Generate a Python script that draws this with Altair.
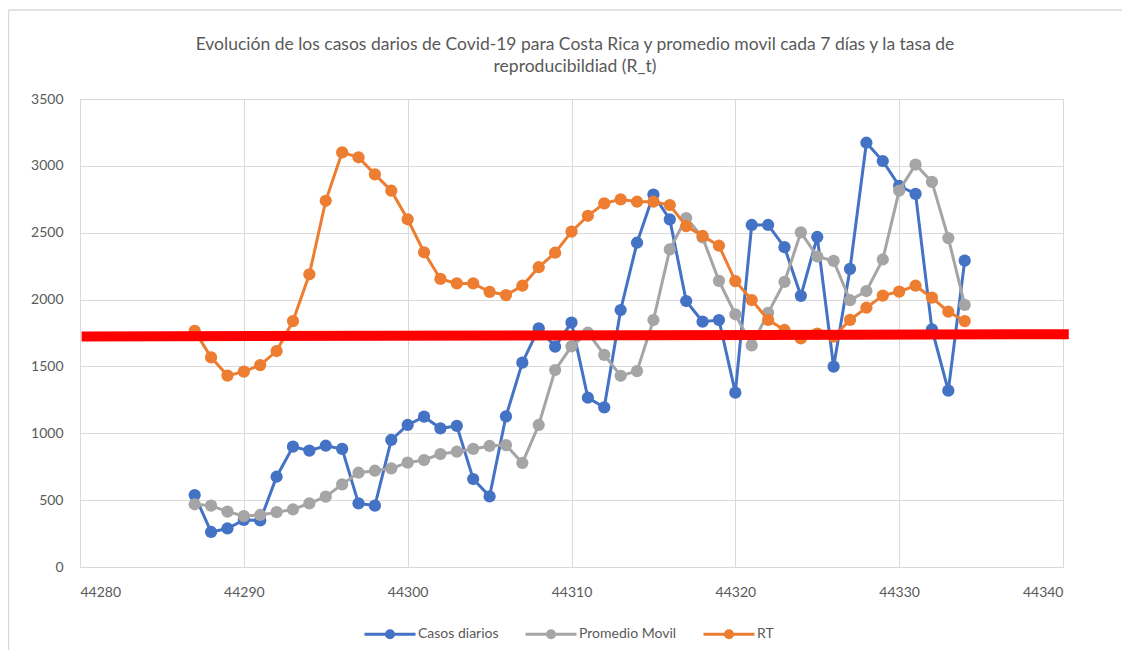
import altair as alt
import pandas as pd

dias = [44287, 44288, 44289, 44290, 44291, 44292, 44293, 44294, 44295, 44296,
        44297, 44298, 44299, 44300, 44301, 44302, 44303, 44304, 44305, 44306,
        44307, 44308, 44309, 44310, 44311, 44312, 44313, 44314, 44315, 44316,
        44317, 44318, 44319, 44320, 44321, 44322, 44323, 44324, 44325, 44326,
        44327, 44328, 44329, 44330, 44331, 44332, 44333, 44334]
casos = [538, 262, 288, 352, 348, 675, 900, 870, 907, 883,
         476, 459, 950, 1062, 1124, 1037, 1055, 658, 528, 1127,
         1528, 1785, 1648, 1828, 1266, 1194, 1922, 2425, 2785, 2600,
         1989, 1835, 1847, 1304, 2558, 2558, 2392, 2028, 2468, 1498,
         2229, 3173, 3036, 2850, 2790, 1778, 1319, 2291]
promedio = [469, 459, 414, 381, 389, 410, 431, 476, 526, 618,
            705, 720, 738, 780, 800, 845, 862, 883, 905, 912,
            778, 1062, 1473, 1650, 1752, 1586, 1430, 1465, 1847, 2375,
            2610, 2465, 2140, 1890, 1657, 1900, 2132, 2503, 2322, 2289,
            1995, 2064, 2300, 2815, 3010, 2880, 2460, 1960]
rt = [1.009, 0.896, 0.818, 0.835, 0.863, 0.923, 1.051, 1.251, 1.565, 1.772,
      1.751, 1.678, 1.608, 1.486, 1.345, 1.231, 1.212, 1.212, 1.176, 1.162,
      1.202, 1.281, 1.343, 1.433, 1.501, 1.554, 1.571, 1.561, 1.561, 1.547,
      1.457, 1.415, 1.373, 1.222, 1.141, 1.056, 1.013, 0.977, 0.997, 0.984,
      1.056, 1.108, 1.160, 1.177, 1.202, 1.151, 1.091, 1.051]

series = ["Casos diarios", "Promedio Movil", "RT"]
colores = ["#4472C4", "#A5A5A5", "#ED7D31"]
x_ticks = [44280, 44290, 44300, 44310, 44320, 44330, 44340]
y_left_ticks = [0, 500, 1000, 1500, 2000, 2500, 3000, 3500]
y_right_ticks = [0, 0.2, 0.4, 0.6, 0.8, 1.0, 1.2, 1.4, 1.6, 1.8, 2.0]
linea_x = [44280.1, 44340.35]
linea_y = [0.985, 0.995]

titulo = ["Evolución de los casos darios de Covid-19 para Costa Rica y promedio movil cada 7 días y la tasa de",
          "reproducibildiad (R_t)"]

FONT = "Lato"
TXT = "#595959"
GRID = "#D9D9D9"

df_casos = pd.DataFrame({"dia": dias, "valor": casos, "serie": series[0]})
df_prom = pd.DataFrame({"dia": dias, "valor": promedio, "serie": series[1]})
df_rt = pd.DataFrame({"dia": dias, "valor": rt, "serie": series[2]})
df_linea = pd.DataFrame({"dia": linea_x, "valor": linea_y})

color_scale = alt.Scale(domain=series, range=colores)
legend = alt.Legend(
    orient="none", legendX=283, legendY=508, direction="horizontal", columns=3,
    title=None,
    symbolType="M-1,0H1M-0.14,0A0.14,0.14 0 1,0 0.14,0A0.14,0.14 0 1,0 -0.14,0",
    symbolSize=2601, symbolStrokeWidth=3, labelFontSize=14, labelColor=TXT,
    labelFont=FONT, columnPadding=20, labelOffset=1,
)
color_enc = alt.Color("serie:N", scale=color_scale, legend=legend)

x_enc = alt.X(
    "dia:Q",
    scale=alt.Scale(domain=[44280, 44340], nice=False, zero=False),
    axis=alt.Axis(values=x_ticks, format="d", title=None, grid=True, gridColor=GRID,
                  domainColor=GRID, ticks=False, labelPadding=18, labelFontSize=14,
                  labelColor=TXT, labelFont=FONT),
)
left_axis = alt.Axis(values=y_left_ticks, format="d", title=None, grid=True, gridColor=GRID,
                     domainColor=GRID, ticks=False, labelPadding=17, labelFontSize=14,
                     labelColor=TXT, labelFont=FONT)
y_left = alt.Y("valor:Q", scale=alt.Scale(domain=[0, 3500], nice=False), axis=left_axis)

right_axis = alt.Axis(values=y_right_ticks, orient="right", title=None, grid=False,
                      domainColor=GRID, ticks=True, tickColor=GRID, tickSize=5,
                      labelPadding=10, labelFontSize=14, labelColor=TXT, labelFont=FONT,
                      labelExpr="replace(format(datum.value, '.1~f'), '.', ',')")
y_right = alt.Y("valor:Q", scale=alt.Scale(domain=[0, 2], nice=False), axis=right_axis)

pt = alt.OverlayMarkDef(filled=True, size=150, opacity=1)

l_casos = alt.Chart(df_casos).mark_line(strokeWidth=3, point=pt).encode(
    x=x_enc, y=y_left, color=color_enc)
l_prom = alt.Chart(df_prom).mark_line(strokeWidth=3, point=pt).encode(
    x=x_enc, y=y_left, color=color_enc)
left = alt.layer(l_casos, l_prom)

l_rt = alt.Chart(df_rt).mark_line(strokeWidth=3, point=pt).encode(
    x=x_enc, y=y_right, color=color_enc)
l_red = alt.Chart(df_linea).mark_line(color="#FF0000", strokeWidth=10, strokeCap="butt").encode(
    x=alt.X("dia:Q"), y=alt.Y("valor:Q", axis=None))
right = alt.layer(l_rt, l_red)

border_top = alt.Chart(alt.Data(values=[{}])).mark_rule(
    color=GRID, strokeWidth=1.5).encode(
    x=alt.value(-71.5), x2=alt.value(1300), y=alt.value(-89))
border_left = alt.Chart(alt.Data(values=[{}])).mark_rule(
    color=GRID, strokeWidth=1.5).encode(
    x=alt.value(-71.5), y=alt.value(-89), y2=alt.value(800))

t1 = alt.Chart(alt.Data(values=[{"t": titulo[0]}])).mark_text(
    font=FONT, fontSize=17.5, color=TXT, align="center", baseline="middle"
).encode(x=alt.value(495), y=alt.value(-54), text="t:N")
t2 = alt.Chart(alt.Data(values=[{"t": titulo[1]}])).mark_text(
    font=FONT, fontSize=17.5, color=TXT, align="center", baseline="middle"
).encode(x=alt.value(495), y=alt.value(-32), text="t:N")

chart = alt.layer(border_top, border_left, t1, t2, left, right).resolve_scale(y="independent").properties(
    width=983, height=468,
    autosize=alt.AutoSizeParams(type="none"),
    padding={"left": 72, "top": 91, "right": 59, "bottom": 83},
).configure_view(stroke=None).configure(background="white")

chart.save("out.html", embed_options={"renderer": "svg", "actions": False})
